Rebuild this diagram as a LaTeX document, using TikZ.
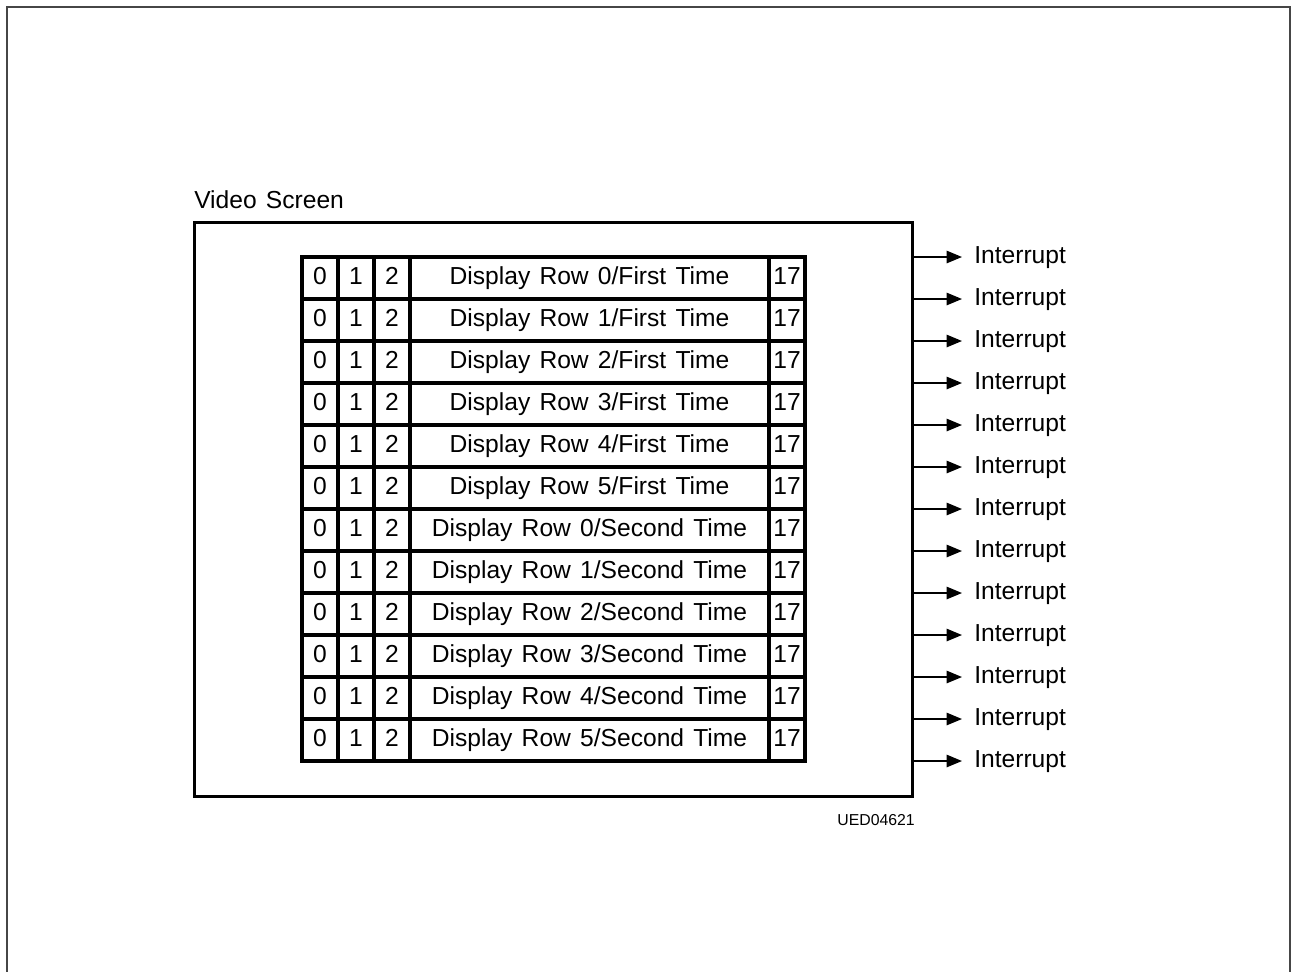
\documentclass[tikz,border=0pt]{standalone}
\usepackage{fontspec}
\setmainfont{Liberation Sans}[WordSpace=1.35]
\usetikzlibrary{arrows.meta,positioning}
\definecolor{ink}{RGB}{0,0,0}
\definecolor{edge}{RGB}{70,70,70}
\tikzset{
  every picture/.style={color=ink, line width=0.3pt, font=\fontsize{14pt}{17pt}\selectfont},
  screen/.style={draw=ink, line width=0.6mm, minimum width=143.4mm, minimum height=114.8mm, inner sep=0pt},
  cell/.style={draw=ink, line width=0.65mm, minimum height=8.4mm, inner sep=0pt, text height=0.72em, text depth=0pt},
  bit/.style={cell, minimum width=7.2mm},
  wide/.style={cell, minimum width=71.8mm},
  lbl/.style={inner sep=0pt},
  irq/.style={inner ysep=0pt, inner xsep=2.4mm, anchor=west, text height=0.72em, text depth=0pt},
  sig/.style={-{Triangle[length=3.1mm,width=2.5mm]}, line width=0.3mm},
  tag/.style={font=\fontsize{9pt}{11pt}\selectfont, inner sep=0pt},
  frame/.style={draw=edge, line width=0.4mm},
}

\begin{document}
\begin{tikzpicture}[x=0.2mm, y=-0.2mm]
  \useasboundingbox (0,0) rectangle (1291,971);
  \draw[frame] (7,975) -- (7,7) -- (1290,7) -- (1290,975);
  % the screen
  \node[screen] (scr) at (553.5,509) {};
  \node[lbl, anchor=base west] (title) at (194,208) {Video Screen};
  % display rows, each shown twice
  \foreach \pass [count=\p from 0] in {First,Second}
    \foreach \n in {0,...,5} {
      \pgfmathtruncatemacro\k{6*\p+\n}
      \pgfmathsetmacro\yy{278+42*\k}
      \node[bit] (c\k-0) at (320,\yy) {0};
      \node[bit] (c\k-1) at (356,\yy) {1};
      \node[bit] (c\k-2) at (392,\yy) {2};
      \node[wide] (c\k-d) at (589.5,\yy) {Display Row \n/\pass{} Time};
      \node[bit] (c\k-e) at (787,\yy) {17};
    }
  % interrupts at every row edge
  \foreach \j in {0,...,12} {
    \node[irq] (int\j) at (962,257+42*\j) {Interrupt};
    \draw[sig] (scr.east |- int\j.west) -- (int\j.west);
  }
  \node[tag, anchor=base east] (code) at (915,825) {UED04621};
\end{tikzpicture}
\end{document}
